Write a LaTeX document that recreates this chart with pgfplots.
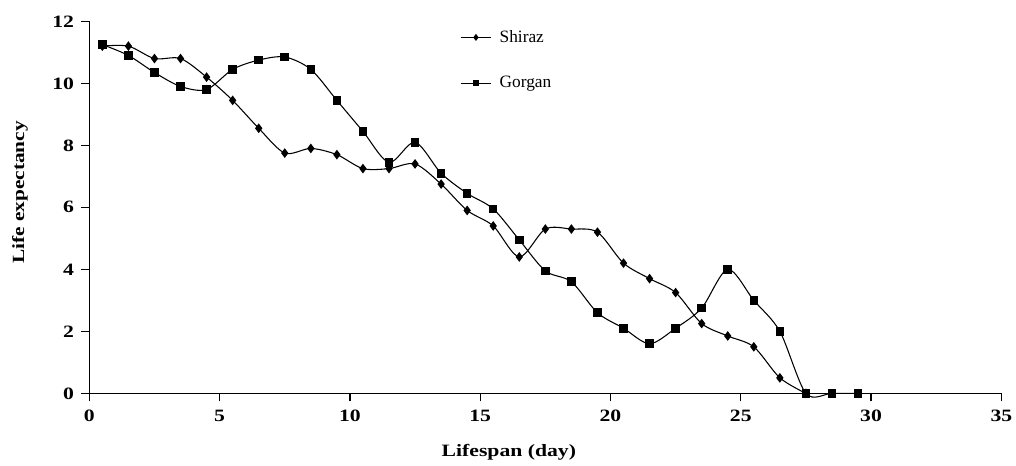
\documentclass[border=0pt]{standalone}
\usepackage{pgfplots}
\pgfplotsset{compat=1.18}
\usepackage{fontspec}
\setmainfont[FakeStretch=1.25]{Liberation Serif}
\newfontfamily\legfont{Liberation Serif}
\begin{document}
\begin{tikzpicture}
\begin{axis}[
  scale only axis,
  width=684pt, height=279pt,
  xmin=0, xmax=35, ymin=0, ymax=12,
  xtick={0,5,...,35}, ytick={0,2,...,12},
  axis lines=left,
  axis line style={-, line width=0.9pt},
  tick style={black, line width=0.9pt},
  tick align=outside,
  major tick length=6pt,
  /pgf/number format/assume math mode=true,
  ticklabel style={font=\fontsize{13}{15}\selectfont\bfseries},
  xticklabel style={yshift=-3pt},
  yticklabel style={xshift=-2pt},
  xlabel={Lifespan (day)},
  ylabel={Life expectancy},
  every axis x label/.style={at={(axis description cs:0.46,0)}, yshift=-44pt, anchor=center,
    font=\fontsize{13}{15}\selectfont\bfseries},
  every axis y label/.style={at={(axis description cs:0,0.54)}, xshift=-52pt, rotate=90, anchor=center,
    font=\fontsize{12.8}{15}\selectfont\bfseries},
  legend style={draw=none, fill=none, at={(axis description cs:0.402,1.005)}, anchor=north west,
    font=\fontsize{13}{15}\legfont, row sep=12pt, nodes={inner sep=6pt}},
  legend image code/.code={
    \draw[mark repeat=2, mark phase=2, #1, mark size=2pt] plot coordinates {(0cm,0cm) (0.4cm,0cm) (0.8cm,0cm)};
  },
  legend cell align=left,
  clip=false,
]
\addplot[black, line width=0.8pt, smooth, mark=diamond*, mark size=3pt] coordinates {
(0.5,11.2) (1.5,11.2) (2.5,10.8) (3.5,10.8) (4.5,10.2) (5.5,9.45) (6.5,8.55) (7.5,7.75)
(8.5,7.9) (9.5,7.7) (10.5,7.25) (11.5,7.25) (12.5,7.4) (13.5,6.75) (14.5,5.9) (15.5,5.4)
(16.5,4.4) (17.5,5.3) (18.5,5.3) (19.5,5.2) (20.5,4.2) (21.5,3.7) (22.5,3.25) (23.5,2.25)
(24.5,1.85) (25.5,1.5) (26.5,0.5) (27.5,0)
};
\addlegendentry{Shiraz}
\addplot[black, line width=0.8pt, smooth, mark=square*, mark size=2.8pt] coordinates {
(0.5,11.25) (1.5,10.9) (2.5,10.35) (3.5,9.9) (4.5,9.8) (5.5,10.45) (6.5,10.75) (7.5,10.85)
(8.5,10.45) (9.5,9.45) (10.5,8.45) (11.5,7.45) (12.5,8.1) (13.5,7.1) (14.5,6.45) (15.5,5.95)
(16.5,4.95) (17.5,3.95) (18.5,3.6) (19.5,2.6) (20.5,2.1) (21.5,1.6) (22.5,2.1) (23.5,2.75)
(24.5,4.0) (25.5,3.0) (26.5,2.0) (27.5,0) (28.5,0) (29.5,0)
};
\addlegendentry{Gorgan}
\end{axis}
\pgfresetboundingbox
\path (current axis.south west) ++(-67pt,-54pt) rectangle ++(762pt,349pt);
\end{tikzpicture}
\end{document}
